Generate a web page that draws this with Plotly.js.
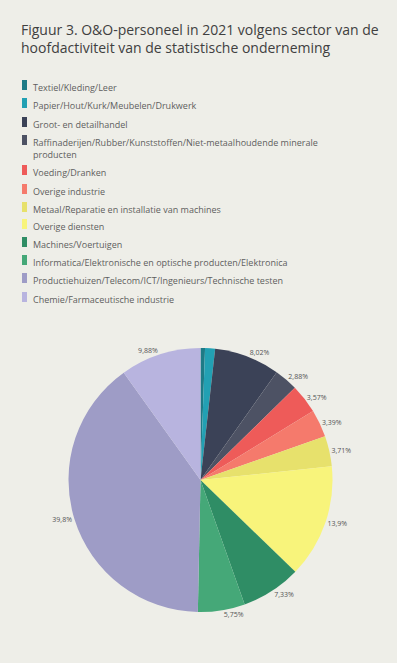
<!DOCTYPE html>
<html>
<head>
<meta charset="utf-8">
<script src="https://cdn.plot.ly/plotly-3.0.1.min.js"></script>
<style>html,body{margin:0;padding:0;background:#eeeee8;}#chart{width:397px;height:663px;}</style>
</head>
<body>
<div id="chart"></div>
<script>
var categories = [
  "Textiel/Kleding/Leer",
  "Papier/Hout/Kurk/Meubelen/Drukwerk",
  "Groot- en detailhandel",
  "Raffinaderijen/Rubber/Kunststoffen/Niet-metaalhoudende minerale<br>producten",
  "Voeding/Dranken",
  "Overige industrie",
  "Metaal/Reparatie en installatie van machines",
  "Overige diensten",
  "Machines/Voertuigen",
  "Informatica/Elektronische en optische producten/Elektronica",
  "Productiehuizen/Telecom/ICT/Ingenieurs/Technische testen",
  "Chemie/Farmaceutische industrie"
];
var shares = [0.55, 1.22, 8.02, 2.88, 3.57, 3.39, 3.71, 13.9, 7.33, 5.75, 39.8, 9.88];
var showLabel = [false, false, true, true, true, true, true, true, true, true, true, true];
var colors = ["#1e7b86", "#22a0b3", "#3b4257", "#4d5264", "#ee5b59", "#f57a6c", "#e7e16c", "#f8f47b", "#2f8d65", "#45a878", "#9e9cc6", "#b8b4df"];
var legendY = [85, 103, 122, 140, 170, 189, 207, 224, 242, 260, 278, 297];

var W = 397, H = 663;
function px(x){ return x / W; }
function py(y){ return 1 - y / H; }

var annotations = [];
var shapes = [];
categories.forEach(function(c, i){
  annotations.push({
    text: c, xref: 'paper', yref: 'paper', x: px(31), y: py(legendY[i] - 6),
    xanchor: 'left', yanchor: 'top', align: 'left', showarrow: false,
    font: {family: 'Open Sans, sans-serif', size: 9, color: '#5e5e5e'}
  });
  shapes.push({
    type: 'rect', xref: 'paper', yref: 'paper',
    x0: px(22), x1: px(27), y0: py(legendY[i] + 5), y1: py(legendY[i] - 5),
    fillcolor: colors[i], line: {width: 0}
  });
});

var cx = 200.5, cy = 480, r = 132;
var trace = {
  type: 'pie',
  labels: categories,
  values: shares,
  sort: false,
  direction: 'clockwise',
  rotation: 0,
  marker: {colors: colors, line: {width: 0}},
  texttemplate: showLabel.map(function(s){ return s ? '%{percent}' : ''; }),
  textposition: 'outside',
  textfont: {family: 'Open Sans, sans-serif', size: 7, color: '#555555'},
  hoverinfo: 'label+percent',
  showlegend: false,
  domain: {x: [px(cx - r), px(cx + r)], y: [py(cy + r), py(cy - r)]}
};

var layout = {
  width: W, height: H,
  margin: {l: 0, r: 0, t: 0, b: 0},
  paper_bgcolor: '#eeeee8',
  plot_bgcolor: '#eeeee8',
  separators: ',.',
  showlegend: false,
  title: {
    text: 'Figuur 3. O&O-personeel in 2021 volgens sector van de<br>hoofdactiviteit van de statistische onderneming',
    x: px(21), xanchor: 'left', y: py(35), yanchor: 'top', xref: 'paper', yref: 'container',
    font: {family: 'Open Sans, sans-serif', size: 14, color: '#404040'}
  },
  annotations: annotations,
  shapes: shapes
};

Plotly.newPlot('chart', [trace], layout, {displayModeBar: false, staticPlot: true});
</script>
</body>
</html>
